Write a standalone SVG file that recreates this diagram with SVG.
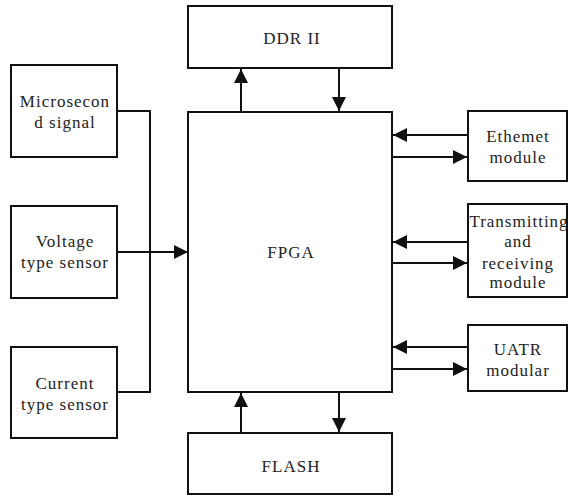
<svg xmlns="http://www.w3.org/2000/svg" width="568" height="495" viewBox="0 0 568 495">
<style>
.box{fill:#fff;stroke:#111;stroke-width:2}
.ln{fill:none;stroke:#111;stroke-width:2}
text{font-family:"Liberation Serif","Times New Roman",serif;font-size:17px;letter-spacing:1px;fill:#222;text-anchor:middle}
</style>
<defs>
<marker id="ah" viewBox="0 0 14 14" refX="14" refY="7" markerWidth="14" markerHeight="14" markerUnits="userSpaceOnUse" orient="auto">
<path d="M0,0 L14,7 L0,14 Z" fill="#111"/>
</marker>
</defs>
<rect width="568" height="495" fill="#fff"/>
<g id="connectors">
<polyline class="ln" points="117,111 150,111 150,392 117,392"/>
<line class="ln" x1="117" y1="252" x2="188" y2="252" marker-end="url(#ah)"/>
<line class="ln" x1="241" y1="112" x2="241" y2="69" marker-end="url(#ah)"/>
<line class="ln" x1="339" y1="68" x2="339" y2="111" marker-end="url(#ah)"/>
<line class="ln" x1="241" y1="433" x2="241" y2="393" marker-end="url(#ah)"/>
<line class="ln" x1="339" y1="392" x2="339" y2="432" marker-end="url(#ah)"/>
<line class="ln" x1="468" y1="135" x2="393" y2="135" marker-end="url(#ah)"/>
<line class="ln" x1="392" y1="157" x2="467" y2="157" marker-end="url(#ah)"/>
<line class="ln" x1="468" y1="242" x2="393" y2="242" marker-end="url(#ah)"/>
<line class="ln" x1="392" y1="263" x2="467" y2="263" marker-end="url(#ah)"/>
<line class="ln" x1="468" y1="347" x2="393" y2="347" marker-end="url(#ah)"/>
<line class="ln" x1="392" y1="369" x2="467" y2="369" marker-end="url(#ah)"/>
</g>
<g id="microsecond">
<rect class="box" x="11" y="65" width="106" height="92"/>
<text x="65" y="107">Microsecon</text>
<text x="65" y="128">d signal</text>
</g>
<g id="voltage">
<rect class="box" x="11" y="206" width="106" height="92"/>
<text x="65" y="247">Voltage</text>
<text x="65" y="268">type sensor</text>
</g>
<g id="current">
<rect class="box" x="11" y="347" width="106" height="91"/>
<text x="65" y="389">Current</text>
<text x="65" y="410">type sensor</text>
</g>
<g id="ddr">
<rect class="box" x="188" y="6" width="204" height="62"/>
<text x="292" y="44">DDR II</text>
</g>
<g id="fpga">
<rect class="box" x="188" y="112" width="204" height="280"/>
<text x="291" y="258">FPGA</text>
</g>
<g id="flash">
<rect class="box" x="188" y="433" width="204" height="61"/>
<text x="291" y="472">FLASH</text>
</g>
<g id="ethernet">
<rect class="box" x="468" y="111" width="99" height="70"/>
<text x="518" y="142">Ethemet</text>
<text x="518" y="163">module</text>
</g>
<g id="transmitting">
<rect class="box" x="468" y="204" width="99" height="93"/>
<text x="519" y="227">Transmitting</text>
<text x="518" y="247">and</text>
<text x="518" y="269">receiving</text>
<text x="518" y="288">module</text>
</g>
<g id="uatr">
<rect class="box" x="468" y="325" width="99" height="66"/>
<text x="518" y="355">UATR</text>
<text x="518" y="376">modular</text>
</g>
</svg>
